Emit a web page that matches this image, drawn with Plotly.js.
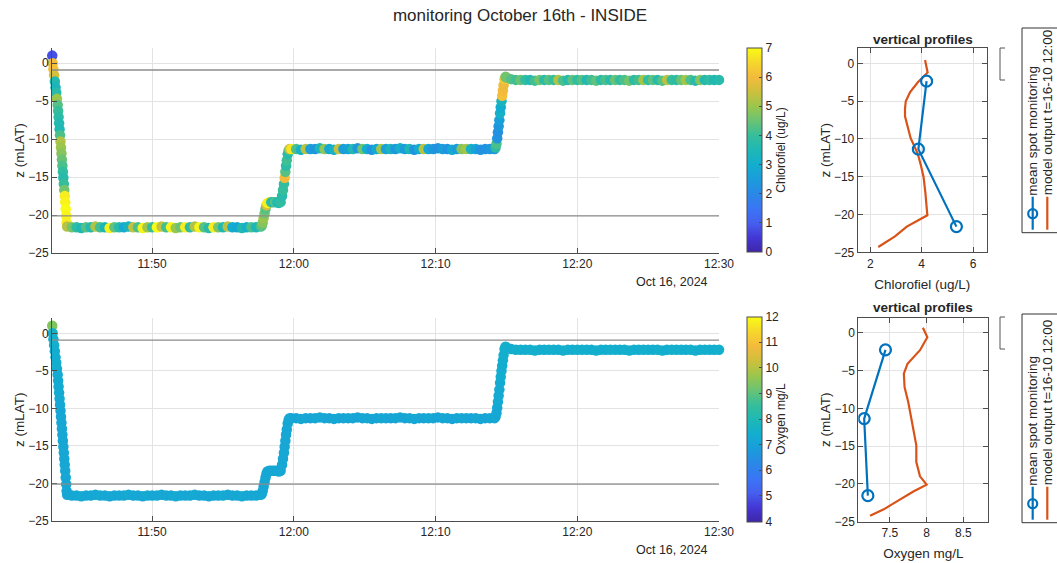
<!DOCTYPE html>
<html>
<head>
<meta charset="utf-8">
<script src="https://cdn.plot.ly/plotly-3.0.1.min.js"></script>
<style>
  html, body { margin: 0; padding: 0; background: #fff; }
  #chart { width: 1057px; height: 563px; }
</style>
</head>
<body>
<div id="chart"></div>
<script>
// Survey track of the sonde on 16 Oct 2024 (inside station), one entry per logged sample.
const surveyDay = '2024-10-16';

const sampleTime = [
  // descent
  '11:42:57','11:42:59','11:43:02','11:43:05','11:43:08','11:43:11','11:43:14','11:43:17','11:43:20','11:43:22',
  '11:43:24','11:43:26','11:43:28','11:43:30','11:43:32','11:43:34','11:43:36','11:43:38','11:43:40','11:43:42',
  '11:43:44','11:43:46','11:43:48','11:43:50','11:43:52','11:43:54','11:43:56','11:43:58','11:44:00',
  // near-bed station
  '11:44:20','11:44:40','11:45:00','11:45:20','11:45:40','11:46:00','11:46:20','11:46:40','11:47:00','11:47:20',
  '11:47:40','11:48:00','11:48:20','11:48:40','11:49:00','11:49:20','11:49:40','11:50:00','11:50:20','11:50:40',
  '11:51:00','11:51:20','11:51:40','11:52:00','11:52:20','11:52:40','11:53:00','11:53:20','11:53:40','11:54:00',
  '11:54:20','11:54:40','11:55:00','11:55:20','11:55:40','11:56:00','11:56:20','11:56:40','11:57:00','11:57:20',
  '11:57:40',
  // first lift
  '11:57:44','11:57:48','11:57:52','11:57:56','11:58:00','11:58:04','11:58:08',
  // short hold
  '11:58:16','11:58:24','11:58:32','11:58:40','11:58:48','11:58:56','11:59:04',
  // second lift
  '11:59:10','11:59:14','11:59:18','11:59:21','11:59:24','11:59:27','11:59:30','11:59:34','11:59:38','11:59:42',
  // mid-depth station
  '11:59:50','12:00:10','12:00:30','12:00:50','12:01:10','12:01:30','12:01:50','12:02:10','12:02:30','12:02:50',
  '12:03:10','12:03:30','12:03:50','12:04:10','12:04:30','12:04:50','12:05:10','12:05:30','12:05:50','12:06:10',
  '12:06:30','12:06:50','12:07:10','12:07:30','12:07:50','12:08:10','12:08:30','12:08:50','12:09:10','12:09:30',
  '12:09:50','12:10:10','12:10:30','12:10:50','12:11:10','12:11:30','12:11:50','12:12:10','12:12:30','12:12:50',
  '12:13:10','12:13:30','12:13:50','12:14:10',
  // third lift
  '12:14:14','12:14:18','12:14:21','12:14:24','12:14:27','12:14:30','12:14:33','12:14:36','12:14:39','12:14:42',
  '12:14:45','12:14:48','12:14:52','12:14:56',
  // near-surface station
  '12:15:00','12:15:20','12:15:40','12:16:00','12:16:20','12:16:40','12:17:00','12:17:20','12:17:40','12:18:00',
  '12:18:20','12:18:40','12:19:00','12:19:20','12:19:40','12:20:00','12:20:20','12:20:40','12:21:00','12:21:20',
  '12:21:40','12:22:00','12:22:20','12:22:40','12:23:00','12:23:20','12:23:40','12:24:00','12:24:20','12:24:40',
  '12:25:00','12:25:20','12:25:40','12:26:00','12:26:20','12:26:40','12:27:00','12:27:20','12:27:40','12:28:00',
  '12:28:20','12:28:40','12:29:00','12:29:20','12:29:40','12:30:00'
];

// sensor depth, m relative to LAT
const sampleDepth = [
  1.0,0.0,-0.8,-1.6,-2.4,-3.2,-3.9,-4.7,-5.5,-6.3,
  -7.1,-7.9,-8.7,-9.5,-10.3,-11.1,-11.9,-12.7,-13.5,-14.3,
  -15.1,-15.9,-16.7,-17.5,-18.3,-19.2,-20.1,-21.0,-21.5,
  -21.6,-21.6,-21.7,-21.6,-21.6,-21.5,-21.6,-21.6,-21.7,-21.6,
  -21.6,-21.6,-21.5,-21.6,-21.6,-21.7,-21.6,-21.6,-21.6,-21.5,
  -21.6,-21.6,-21.7,-21.6,-21.6,-21.6,-21.5,-21.6,-21.6,-21.7,
  -21.6,-21.6,-21.6,-21.5,-21.6,-21.6,-21.7,-21.6,-21.6,-21.6,
  -21.5,
  -21.4,-21.0,-20.4,-19.8,-19.2,-18.7,-18.4,
  -18.3,-18.3,-18.3,-18.3,-18.3,-18.4,-18.3,
  -17.5,-16.7,-15.9,-15.1,-14.3,-13.5,-12.8,-12.0,-11.5,-11.3,
  -11.3,-11.3,-11.4,-11.3,-11.3,-11.3,-11.2,-11.3,-11.3,-11.4,
  -11.3,-11.3,-11.3,-11.3,-11.2,-11.3,-11.3,-11.4,-11.3,-11.3,
  -11.3,-11.3,-11.3,-11.2,-11.3,-11.3,-11.4,-11.3,-11.3,-11.3,
  -11.3,-11.2,-11.3,-11.3,-11.4,-11.3,-11.3,-11.3,-11.3,-11.3,
  -11.4,-11.3,-11.3,-11.3,
  -11.1,-10.6,-9.9,-9.1,-8.3,-7.5,-6.6,-5.8,-5.0,-4.3,
  -3.6,-2.9,-2.1,-1.8,
  -1.9,-2.1,-2.2,-2.2,-2.2,-2.2,-2.3,-2.2,-2.2,-2.2,
  -2.2,-2.2,-2.3,-2.2,-2.2,-2.2,-2.2,-2.2,-2.2,-2.3,
  -2.2,-2.2,-2.2,-2.2,-2.2,-2.2,-2.3,-2.2,-2.2,-2.2,
  -2.2,-2.2,-2.2,-2.3,-2.2,-2.2,-2.2,-2.2,-2.2,-2.2,
  -2.3,-2.2,-2.2,-2.2,-2.2,-2.2
];

// chlorophyll, ug/L
const chlorophyll = [
  0.8,6.0,6.1,5.6,3.6,3.4,3.7,5.0,4.3,4.0,
  3.8,3.6,3.5,4.2,5.2,5.0,4.8,4.5,4.2,3.9,
  3.7,4.0,4.6,6.8,6.9,7.0,6.9,6.8,5.3,
  4.6,3.9,3.5,4.3,3.6,5.2,4.1,3.4,6.9,4.4,
  3.7,2.9,3.3,5.4,4.2,6.9,5.1,4.0,7.0,5.4,
  4.1,6.9,5.0,4.5,6.8,3.8,5.2,6.9,4.3,3.7,
  6.8,4.7,3.5,5.3,3.0,2.8,3.6,3.1,4.2,3.4,
  4.0,
  4.4,4.8,5.0,4.6,4.3,5.6,6.9,
  6.8,4.0,3.6,4.4,3.8,3.5,3.9,
  3.7,4.0,3.9,6.0,4.3,3.8,4.1,3.7,4.0,5.5,
  6.7,4.2,3.1,5.3,2.6,2.3,3.4,4.9,2.8,3.2,
  5.4,2.5,2.7,3.6,2.4,4.6,3.0,2.3,2.9,5.1,
  2.6,3.3,2.4,3.1,2.5,3.5,2.3,3.0,5.3,2.8,
  2.4,2.2,2.6,2.3,2.9,2.5,4.8,5.1,3.2,2.7,
  2.3,2.2,2.4,2.3,
  3.8,4.2,2.3,2.2,2.4,2.6,3.1,3.0,3.3,6.1,
  6.0,5.9,6.2,4.6,
  4.6,4.3,4.1,4.5,3.9,3.6,4.1,4.6,3.8,4.3,
  4.0,5.2,4.2,3.7,4.4,3.9,4.3,3.6,4.1,4.4,
  3.8,4.2,3.7,4.5,3.9,4.2,4.6,3.8,4.1,5.1,
  3.9,4.4,3.7,4.3,5.3,4.0,3.8,4.5,5.1,4.2,
  3.7,4.8,3.6,3.9,3.5,3.7
];

// dissolved oxygen, mg/L
const oxygen = [
  9.4,7.6,7.5,7.5,7.4,7.4,7.4,7.4,7.3,7.3,
  7.3,7.3,7.3,7.2,7.2,7.2,7.2,7.2,7.2,7.2,
  7.2,7.2,7.2,7.2,7.2,7.2,7.2,7.2,7.2,
  7.2,7.2,7.3,7.2,7.2,7.2,7.3,7.2,7.2,7.2,
  7.2,7.2,7.3,7.2,7.2,7.2,7.3,7.2,7.2,7.2,
  7.2,7.2,7.3,7.2,7.2,7.2,7.3,7.2,7.2,7.2,
  7.2,7.2,7.3,7.2,7.2,7.2,7.3,7.2,7.2,7.2,
  7.2,
  7.2,7.2,7.2,7.2,7.2,7.2,7.2,
  7.2,7.2,7.2,7.2,7.2,7.2,7.2,
  7.2,7.2,7.2,7.2,7.2,7.2,7.2,7.2,7.2,7.2,
  7.2,7.1,7.2,7.2,7.1,7.2,7.2,7.2,7.1,7.2,
  7.2,7.1,7.2,7.2,7.1,7.2,7.2,7.2,7.1,7.2,
  7.2,7.1,7.2,7.2,7.1,7.2,7.2,7.2,7.1,7.2,
  7.2,7.1,7.2,7.2,7.1,7.2,7.2,7.2,7.1,7.2,
  7.2,7.1,7.2,7.2,
  7.2,7.2,7.2,7.3,7.3,7.3,7.3,7.4,7.4,7.4,
  7.4,7.5,7.5,7.5,
  7.5,7.4,7.5,7.5,7.4,7.5,7.5,7.5,7.4,7.5,
  7.5,7.4,7.5,7.5,7.4,7.5,7.5,7.5,7.4,7.5,
  7.5,7.4,7.5,7.5,7.4,7.5,7.5,7.5,7.4,7.5,
  7.5,7.4,7.5,7.5,7.4,7.5,7.5,7.5,7.4,7.5,
  7.5,7.4,7.5,7.5,7.4,7.5
];

// reference levels drawn across the time-series panels (m LAT)
const referenceLevels = [-0.9, -20.1];

// vertical profiles: station means of the spot monitoring and the model output at 16-10 12:00
const chlSpotDepth = [-2.35, -11.35, -21.6];
const chlSpotMean  = [4.19, 3.87, 5.35];
const chlModelDepth = [0.45, -0.2, -1.2, -2.5, -3.8, -5.0, -6.0, -7.0, -8.5, -9.9, -11.0, -12.0, -13.5, -15.0, -17.0, -19.0, -20.1, -20.8, -21.6, -22.9, -23.6, -24.3];
const chlModel      = [4.13, 4.18, 4.23, 3.85, 3.55, 3.38, 3.35, 3.35, 3.45, 3.57, 3.72, 3.85, 3.97, 4.07, 4.14, 4.18, 4.22, 3.85, 3.42, 2.96, 2.65, 2.31];

const oxySpotDepth = [-2.25, -11.35, -21.55];
const oxySpotMean  = [7.44, 7.15, 7.20];
const oxyModelDepth = [0.66, -0.58, -2.3, -4.1, -5.4, -7.2, -9.15, -11.8, -14.9, -17.1, -19.0, -20.1, -21.0, -22.35, -23.4, -24.2];
const oxyModel      = [7.95, 8.01, 7.91, 7.74, 7.69, 7.70, 7.75, 7.80, 7.86, 7.86, 7.91, 8.00, 7.82, 7.59, 7.41, 7.23];

const depthTicks = [-25, -20, -15, -10, -5, 0];
const chlTicks = [0, 1, 2, 3, 4, 5, 6, 7];
const oxyTicks = [4, 5, 6, 7, 8, 9, 10, 11, 12];

// ---------------------------------------------------------------------------
const W = 1057, H = 563;
const px = v => v / W;          // pixel column -> paper x
const py = v => 1 - v / H;      // pixel row    -> paper y

const FONT = 'Liberation Sans, Arial, Helvetica, sans-serif';
const INK = '#262626';
const AXIS = '#4d4d4d';
const GRID = '#e3e3e3';
const BLUE = '#0072BD';
const ORANGE = '#D95319';

const parula = [
  [0.000, '#3E26A8'], [0.071, '#4437D6'], [0.143, '#4560EE'], [0.214, '#3A76F5'],
  [0.286, '#2A88E6'], [0.357, '#1B9CDB'], [0.429, '#13AECF'], [0.500, '#1EB8B5'],
  [0.571, '#36BE9B'], [0.643, '#6AC374'], [0.714, '#9BC64C'], [0.786, '#CDC03C'],
  [0.857, '#F4BA3C'], [0.929, '#F6D72B'], [1.000, '#F9FB15']
];

const stamp = sampleTime.map(t => surveyDay + ' ' + t);

function colorbar(title, ticks, top, bottom) {
  return {
    x: px(746.5), xanchor: 'left', xpad: 0,
    y: py((top + bottom) / 2), yanchor: 'middle', ypad: 0,
    len: (bottom - top) / H, lenmode: 'fraction',
    thickness: 15, thicknessmode: 'pixels',
    outlinewidth: 1, outlinecolor: AXIS,
    ticks: 'inside', ticklen: 3, tickcolor: AXIS,
    tickvals: ticks, tickfont: { size: 12, color: INK, family: FONT },
    title: { text: title, side: 'right', font: { size: 12, color: INK, family: FONT } }
  };
}

const traces = [
  {
    type: 'scatter', mode: 'markers', x: stamp, y: sampleDepth, xaxis: 'x', yaxis: 'y', cliponaxis: false,
    marker: { size: 10.5, color: chlorophyll, cmin: 0, cmax: 7, colorscale: parula,
              line: { width: 0 }, colorbar: colorbar('Chlorofiel (ug/L)', chlTicks, 48, 252) },
    hoverinfo: 'skip'
  },
  {
    type: 'scatter', mode: 'lines', x: chlModel, y: chlModelDepth, xaxis: 'x2', yaxis: 'y2',
    line: { color: ORANGE, width: 2.2 }, hoverinfo: 'skip'
  },
  {
    type: 'scatter', mode: 'lines+markers', x: chlSpotMean, y: chlSpotDepth, xaxis: 'x2', yaxis: 'y2',
    line: { color: BLUE, width: 2.2 },
    marker: { symbol: 'circle-open', size: 11, color: BLUE, line: { width: 2.2, color: BLUE } },
    hoverinfo: 'skip'
  },
  {
    type: 'scatter', mode: 'markers', x: stamp, y: sampleDepth, xaxis: 'x3', yaxis: 'y3', cliponaxis: false,
    marker: { size: 10.5, color: oxygen, cmin: 4, cmax: 12, colorscale: parula,
              line: { width: 0 }, colorbar: colorbar('Oxygen mg/L', oxyTicks, 316.5, 521.5) },
    hoverinfo: 'skip'
  },
  {
    type: 'scatter', mode: 'lines', x: oxyModel, y: oxyModelDepth, xaxis: 'x4', yaxis: 'y4',
    line: { color: ORANGE, width: 2.2 }, hoverinfo: 'skip'
  },
  {
    type: 'scatter', mode: 'lines+markers', x: oxySpotMean, y: oxySpotDepth, xaxis: 'x4', yaxis: 'y4',
    line: { color: BLUE, width: 2.2 },
    marker: { symbol: 'circle-open', size: 11, color: BLUE, line: { width: 2.2, color: BLUE } },
    hoverinfo: 'skip'
  }
];

const baseAxis = {
  showgrid: true, gridcolor: GRID, gridwidth: 1,
  showline: true, linecolor: AXIS, linewidth: 1,
  ticks: 'inside', ticklen: 5, tickcolor: AXIS,
  zeroline: false, tickfont: { size: 12, color: INK, family: FONT }
};

function timeAxis(anchor, left, right) {
  return Object.assign({}, baseAxis, {
    anchor: anchor, domain: [px(left), px(right)], type: 'date',
    range: [surveyDay + ' 11:42:56', surveyDay + ' 12:30:00'],
    tick0: surveyDay + ' 11:50:00', dtick: 600000, tickformat: '%H:%M'
  });
}
function depthAxis(anchor, top, bottom, standoff) {
  return Object.assign({}, baseAxis, {
    anchor: anchor, domain: [py(bottom), py(top)], range: [-25, 2], tickvals: depthTicks,
    title: { text: 'z (mLAT)', font: { size: 13.5, color: INK, family: FONT }, standoff: standoff }
  });
}
function profileAxis(anchor, left, right, range, ticks, title) {
  return Object.assign({}, baseAxis, {
    anchor: anchor, domain: [px(left), px(right)], range: range, tickvals: ticks, mirror: 'ticks',
    title: { text: title, font: { size: 13.5, color: INK, family: FONT }, standoff: 9 }
  });
}

const layout = {
  width: W, height: H, autosize: false,
  margin: { l: 0, r: 0, t: 0, b: 0, pad: 0 },
  paper_bgcolor: '#ffffff', plot_bgcolor: '#ffffff',
  font: { family: FONT, color: INK, size: 12 },
  showlegend: false,
  title: {
    text: 'monitoring October 16th - INSIDE',
    font: { size: 17, color: INK, family: FONT },
    x: px(520), xanchor: 'center', xref: 'paper',
    y: py(15), yanchor: 'middle', yref: 'container'
  },
  xaxis:  timeAxis('y', 52, 719),
  yaxis:  depthAxis('x', 48, 253, 0),
  xaxis2: profileAxis('y2', 857.7, 987, [1.51, 6.54], [2, 4, 6], 'Chlorofiel (ug/L)'),
  yaxis2: Object.assign(depthAxis('x2', 48.3, 252.3, 0), { mirror: 'ticks' }),
  xaxis3: timeAxis('y3', 52, 719),
  yaxis3: depthAxis('x3', 318.3, 521, 0),
  xaxis4: profileAxis('y4', 858.3, 988.3, [7.07, 8.84], [7.5, 8, 8.5], 'Oxygen mg/L'),
  yaxis4: Object.assign(depthAxis('x4', 317.7, 521.7, 0), { mirror: 'ticks' }),
  shapes: [],
  annotations: []
};

// reference levels across both time-series panels
[['x', 'y'], ['x3', 'y3']].forEach(([xa, ya]) => {
  referenceLevels.forEach(level => {
    layout.shapes.push({
      type: 'line', xref: xa + ' domain', yref: ya, x0: 0, x1: 1, y0: level, y1: level,
      line: { color: '#8c8c8c', width: 1.3 }, layer: 'above'
    });
  });
});

// date stamp under each time axis
[282, 550].forEach(row => {
  layout.annotations.push({
    text: 'Oct 16, 2024', xref: 'paper', yref: 'paper', x: px(709.5), y: py(row),
    xanchor: 'right', yanchor: 'middle', showarrow: false,
    font: { size: 12.5, color: INK, family: FONT }
  });
});

// profile panel titles
[39.5, 307.5].forEach(row => {
  layout.annotations.push({
    text: '<b>vertical profiles</b>', xref: 'paper', yref: 'paper', x: px(923), y: py(row),
    xanchor: 'center', yanchor: 'middle', showarrow: false,
    font: { size: 13.5, color: INK, family: FONT }
  });
});

// vertical legend boxes beside each profile panel, plus the small bracket to their left
function legendBlock(top, bottom, bracketTop) {
  layout.shapes.push({
    type: 'rect', xref: 'paper', yref: 'paper',
    x0: px(1022), x1: px(1062), y0: py(bottom), y1: py(top),
    line: { color: '#333333', width: 1 }, fillcolor: 'rgba(255,255,255,0)'
  });
  const b0 = bracketTop, b1 = bracketTop + 32;
  layout.shapes.push({
    type: 'path', xref: 'paper', yref: 'paper',
    path: `M ${px(1005)},${py(b0)} L ${px(1000)},${py(b0)} L ${px(1000)},${py(b1)} L ${px(1005)},${py(b1)}`,
    line: { color: '#555555', width: 1 }
  });
  // sample strokes
  layout.shapes.push({
    type: 'line', xref: 'paper', yref: 'paper',
    x0: px(1032.7), x1: px(1032.7), y0: py(bottom - 3), y1: py(bottom - 36),
    line: { color: BLUE, width: 2.2 }
  });
  layout.shapes.push({
    type: 'circle', xref: 'paper', yref: 'paper',
    x0: px(1028.2), x1: px(1037.2), y0: py(bottom - 14.5), y1: py(bottom - 23.5),
    line: { color: BLUE, width: 2.2 }, fillcolor: 'rgba(255,255,255,0)'
  });
  layout.shapes.push({
    type: 'line', xref: 'paper', yref: 'paper',
    x0: px(1047.3), x1: px(1047.3), y0: py(bottom - 3), y1: py(bottom - 36),
    line: { color: ORANGE, width: 2.2 }
  });
  [['mean spot monitoring', 1033], ['model output t=16-10 12:00', 1047.5]].forEach(([label, col]) => {
    layout.annotations.push({
      text: label, textangle: -90, xref: 'paper', yref: 'paper',
      x: px(col), y: py(bottom - 35), xanchor: 'center', yanchor: 'bottom',
      showarrow: false, font: { size: 13.5, color: INK, family: FONT }
    });
  });
}
legendBlock(28, 232.7, 48);
legendBlock(314, 522.7, 317);

Plotly.newPlot('chart', traces, layout, { staticPlot: true, displayModeBar: false });
</script>
</body>
</html>
